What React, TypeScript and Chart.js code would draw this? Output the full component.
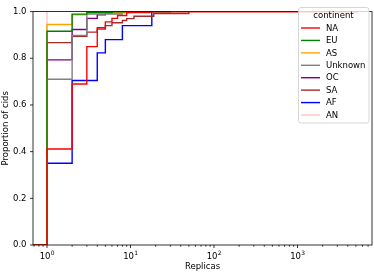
import React, { useEffect, useRef } from 'react';
import { Chart, registerables } from 'chart.js';

Chart.register(...registerables);

const continents = ['NA', 'EU', 'AS', 'Unknown', 'OC', 'SA', 'AF', 'AN'];
const colors = ['#ff0000', '#008000', '#ffa500', '#808080', '#800080', '#a52a2a', '#0000ff', '#ffc0cb'];

// replicas (x) and cumulative proportion of cids (y) per continent
const naX = [1, 2, 3, 4, 5, 6, 7, 9, 17, 5300];
const naY = [0.411, 0.69, 0.85, 0.931, 0.956, 0.971, 0.983, 0.996, 0.999, 1.0];
const euX = [1, 2, 3, 6, 30];
const euY = [0.916, 0.989, 0.996, 0.999, 1.0];
const asX = [1, 2, 3, 10];
const asY = [0.945, 0.986, 0.995, 1.0];
const unknownX = [1, 2, 3, 8];
const unknownY = [0.71, 0.898, 0.99, 1.0];
const ocX = [1, 2, 3, 4, 5, 8];
const ocY = [0.793, 0.923, 0.971, 0.986, 0.993, 1.0];
const saX = [1, 2, 3, 4, 5, 6, 8, 9, 11, 19, 50];
const saY = [0.867, 0.894, 0.912, 0.925, 0.94, 0.952, 0.962, 0.97, 0.98, 0.992, 1.0];
const afX = [1, 2, 4, 5, 8, 18];
const afY = [0.35, 0.705, 0.823, 0.88, 0.94, 1.0];
const anX = [1];
const anY = [1.0];

const seriesX = [naX, euX, asX, unknownX, ocX, saX, afX, anX];
const seriesY = [naY, euY, asY, unknownY, ocY, saY, afY, anY];

const yTicks = [0, 0.2, 0.4, 0.6, 0.8, 1.0];
const xMajorTicks = [1, 10, 100, 1000];
const xTickBase = '10';
const xTickExponents = ['0', '1', '2', '3'];

const FONT = 'DejaVu Sans';
const FS = 8.5;

export default function App() {
  const ref = useRef<HTMLCanvasElement>(null);

  useEffect(() => {
    document.body.style.margin = '0';
    const canvas = ref.current!;
    const datasets = continents.map((c, i) => ({
      label: c,
      data: [{ x: 0.3, y: 0 }, ...seriesX[i].map((x, j) => ({ x, y: seriesY[i][j] }))],
      borderColor: colors[i],
      backgroundColor: colors[i],
      borderWidth: 1.4,
      pointRadius: 0,
      stepped: 'before' as const,
      fill: false,
      tension: 0,
    }));

    const decor = {
      id: 'decor',
      afterDatasetsDraw(chart: any) {
        const ctx = chart.ctx;
        const { left, right, top, bottom } = chart.chartArea;
        ctx.save();
        ctx.strokeStyle = '#000';
        ctx.lineWidth = 0.8;
        ctx.strokeRect(left, top, right - left, bottom - top);
        const xs = chart.scales.x;
        const ys = chart.scales.y;
        for (let e = -1; e <= 3; e++) {
          for (let k = 1; k <= 9; k++) {
            const v = k * Math.pow(10, e);
            if (v < xs.min || v > xs.max) continue;
            const px = xs.getPixelForValue(v);
            const len = k === 1 ? 3 : 1.7;
            ctx.beginPath();
            ctx.moveTo(px, bottom);
            ctx.lineTo(px, bottom + len);
            ctx.stroke();
          }
        }
        yTicks.forEach((v) => {
          const py = ys.getPixelForValue(v);
          ctx.beginPath();
          ctx.moveTo(left, py);
          ctx.lineTo(left - 3, py);
          ctx.stroke();
        });
        // x tick labels: 10 with superscript exponent
        ctx.fillStyle = '#000';
        ctx.textBaseline = 'alphabetic';
        ctx.textAlign = 'left';
        const baseY = bottom + 14;
        xMajorTicks.forEach((v, i) => {
          const px = xs.getPixelForValue(v);
          ctx.font = `${FS}px "${FONT}"`;
          const wb = ctx.measureText(xTickBase).width;
          ctx.font = `${FS * 0.7}px "${FONT}"`;
          const we = ctx.measureText(xTickExponents[i]).width;
          const x0 = px - (wb + we) / 2;
          ctx.font = `${FS}px "${FONT}"`;
          ctx.fillText(xTickBase, x0, baseY);
          ctx.font = `${FS * 0.7}px "${FONT}"`;
          ctx.fillText(xTickExponents[i], x0 + wb + 0.3, baseY - FS * 0.42);
        });
        ctx.restore();
      },
      afterDraw(chart: any) {
        const ctx = chart.ctx;
        ctx.save();
        const bx = 298.5, by = 7.5, bw = 70.5, bh = 115.5, r = 2.5;
        ctx.beginPath();
        ctx.moveTo(bx + r, by);
        ctx.lineTo(bx + bw - r, by);
        ctx.quadraticCurveTo(bx + bw, by, bx + bw, by + r);
        ctx.lineTo(bx + bw, by + bh - r);
        ctx.quadraticCurveTo(bx + bw, by + bh, bx + bw - r, by + bh);
        ctx.lineTo(bx + r, by + bh);
        ctx.quadraticCurveTo(bx, by + bh, bx, by + bh - r);
        ctx.lineTo(bx, by + r);
        ctx.quadraticCurveTo(bx, by, bx + r, by);
        ctx.closePath();
        ctx.fillStyle = 'rgba(255,255,255,0.8)';
        ctx.fill();
        ctx.strokeStyle = '#cccccc';
        ctx.lineWidth = 0.8;
        ctx.stroke();
        ctx.font = `${FS}px "${FONT}"`;
        ctx.fillStyle = '#000';
        ctx.textBaseline = 'middle';
        ctx.textAlign = 'center';
        ctx.fillText('continent', 333.5, 15.5);
        ctx.textAlign = 'left';
        continents.forEach((c, i) => {
          const y = 28 + i * 12.43;
          ctx.strokeStyle = colors[i];
          ctx.lineWidth = 1.4;
          ctx.beginPath();
          ctx.moveTo(301, y);
          ctx.lineTo(320, y);
          ctx.stroke();
          ctx.fillText(c, 326, y + 0.5);
        });
        ctx.restore();
      },
    };

    const chart = new Chart(canvas, {
      type: 'line',
      data: { datasets },
      plugins: [decor],
      options: {
        animation: false,
        responsive: false,
        maintainAspectRatio: false,
        layout: { padding: { left: 0, right: 2, top: 4, bottom: 0 } },
        plugins: { legend: { display: false }, tooltip: { enabled: false } },
        elements: { line: { borderJoinStyle: 'miter', borderCapStyle: 'butt' } },
        scales: {
          x: {
            type: 'logarithmic',
            min: 0.68,
            max: 7800,
            afterFit: (s: any) => { s.height = 29; },
            afterBuildTicks: (s: any) => { s.ticks = xMajorTicks.map((v) => ({ value: v })); },
            grid: { display: false, drawTicks: false },
            border: { display: false },
            ticks: { display: false },
            title: {
              display: true,
              text: 'Replicas',
              color: '#000',
              font: { family: FONT, size: FS },
              padding: { top: 0, bottom: 2 },
            },
          },
          y: {
            type: 'linear',
            min: 0,
            max: 1,
            afterFit: (s: any) => { s.width = 33; },
            afterBuildTicks: (s: any) => { s.ticks = yTicks.map((v) => ({ value: v })); },
            grid: { display: false, drawTicks: false },
            border: { display: false },
            ticks: {
              padding: 6.5,
              color: '#000',
              font: { family: FONT, size: FS },
              callback: (v: any) => Number(v).toFixed(1),
            },
            title: {
              display: true,
              text: 'Proportion of cids',
              color: '#000',
              font: { family: FONT, size: FS },
              padding: { top: 1, bottom: 0 },
            },
          },
        },
      },
    } as any);
    return () => chart.destroy();
  }, []);

  return (
    <div style={{ position: 'absolute', left: 0, top: 0, width: 374, height: 274 }}>
      <canvas ref={ref} width={374} height={274} style={{ display: 'block', width: 374, height: 274 }} />
    </div>
  );
}
